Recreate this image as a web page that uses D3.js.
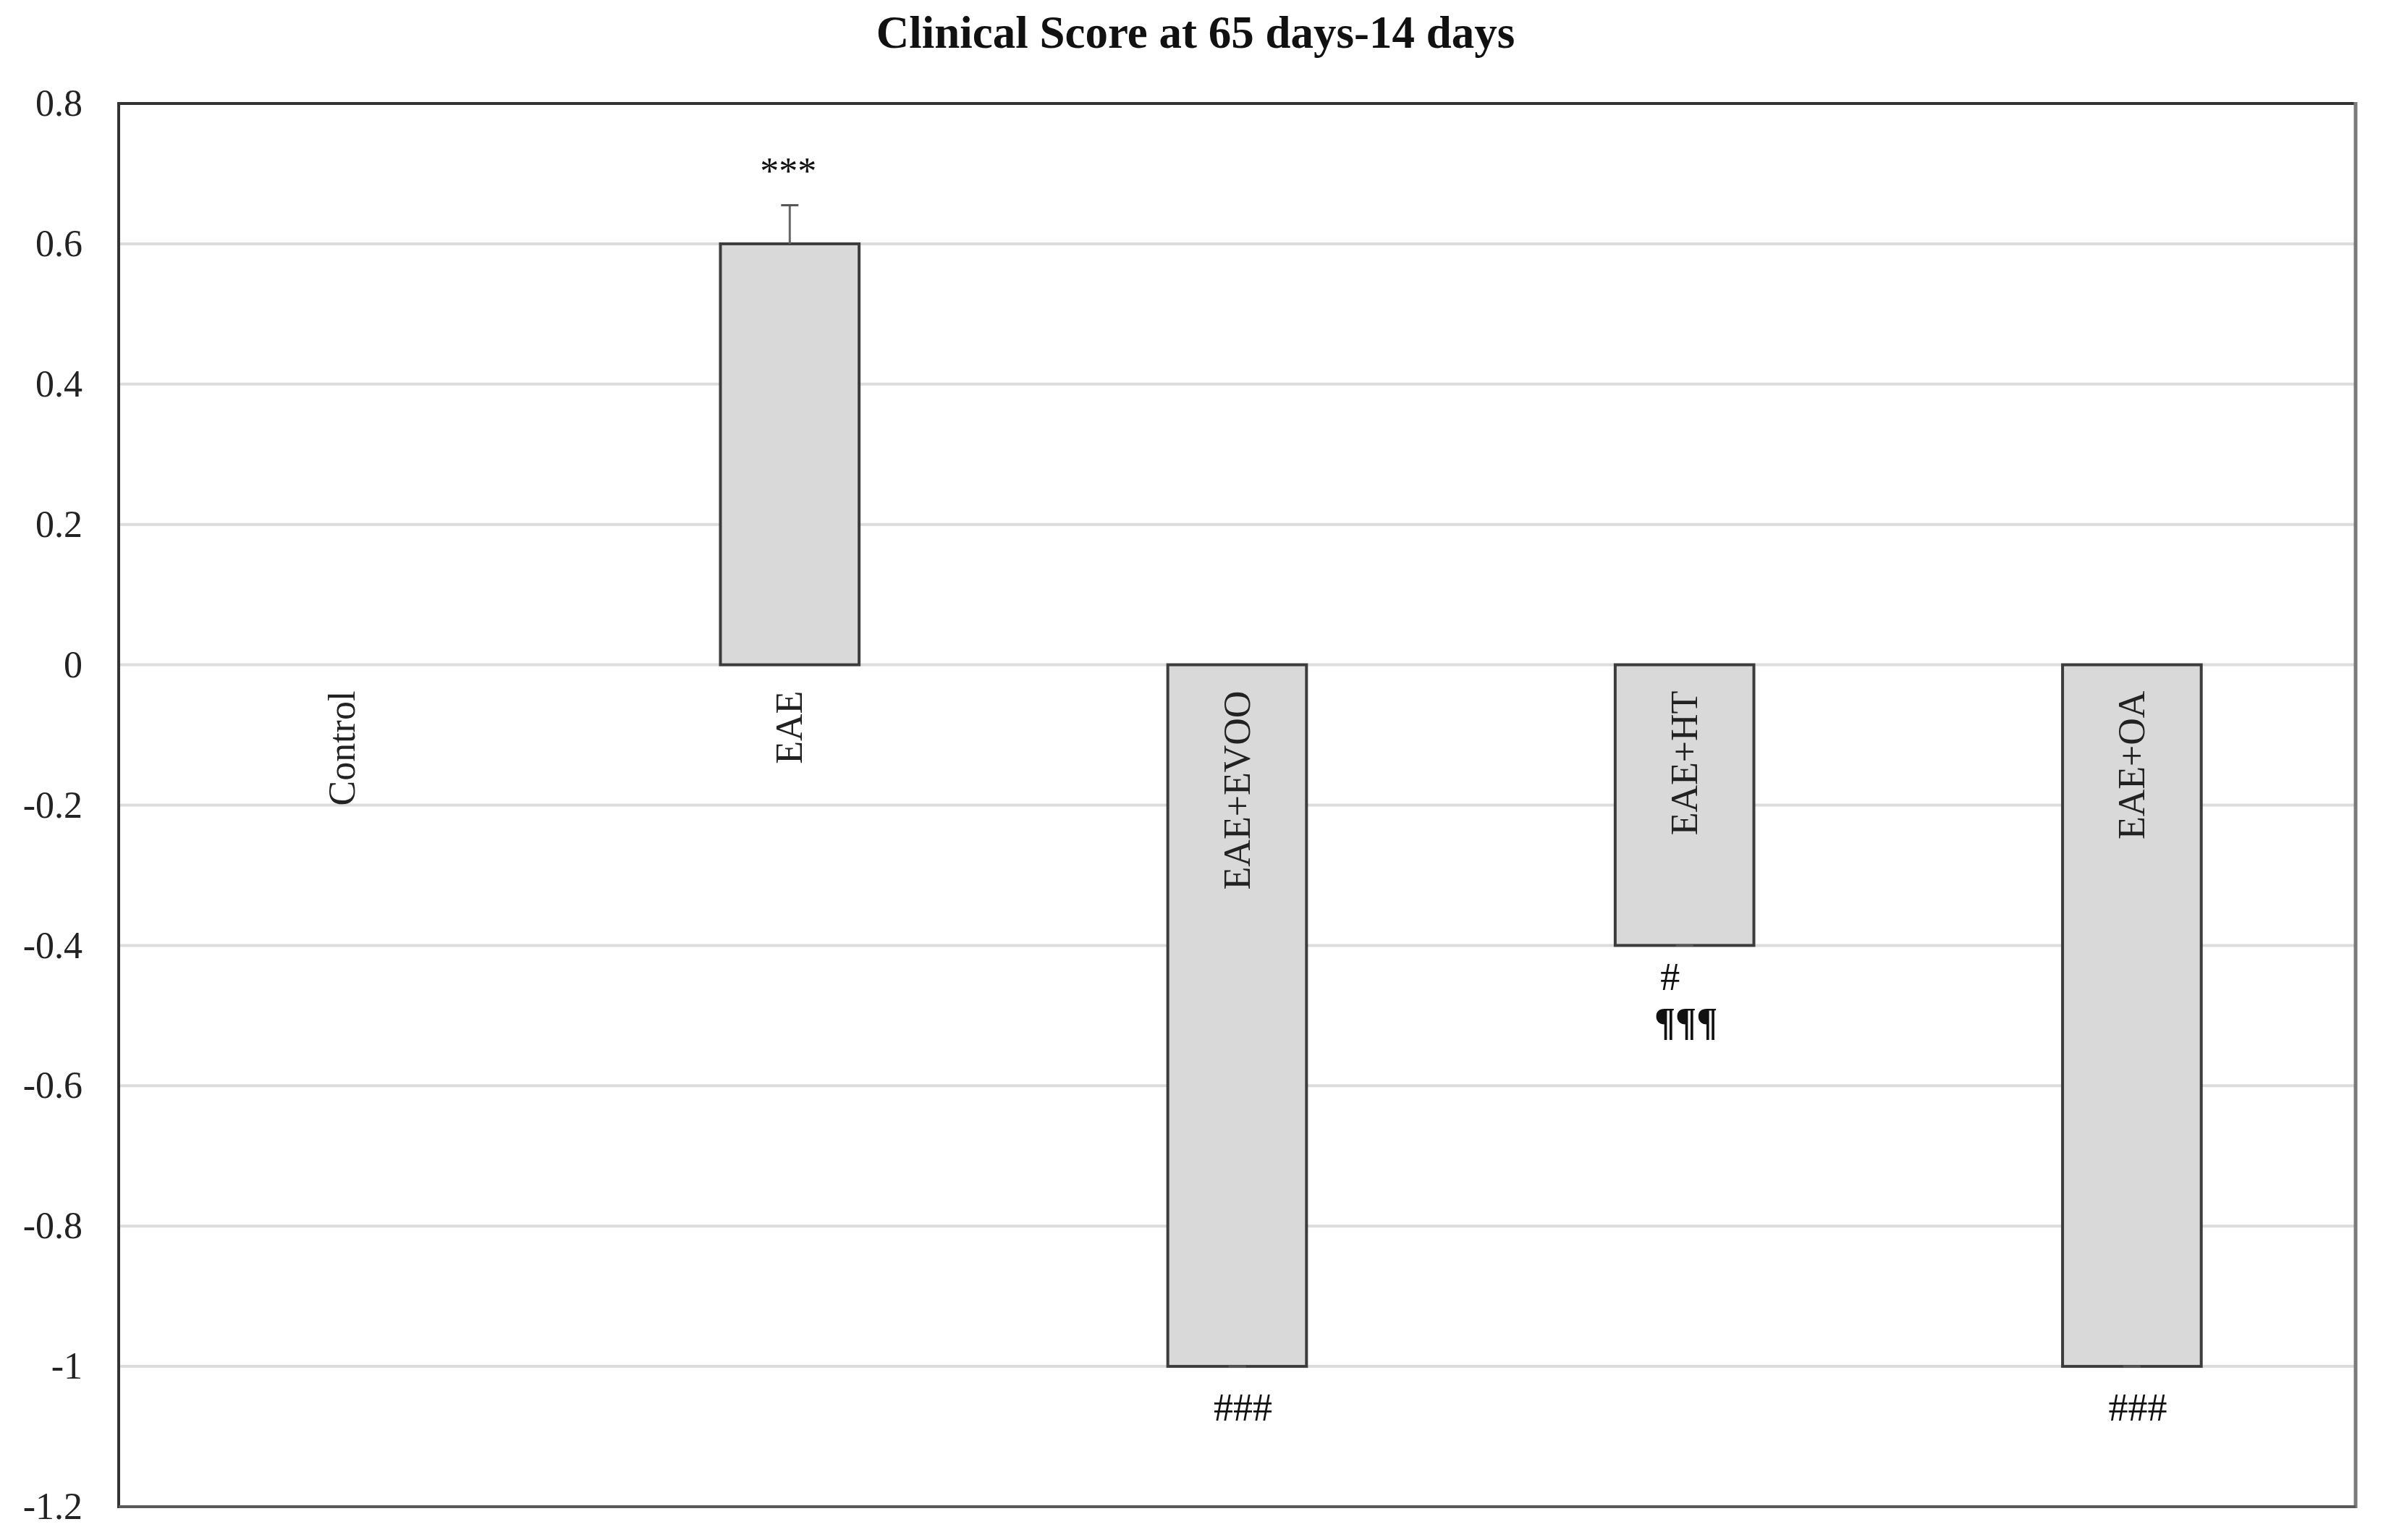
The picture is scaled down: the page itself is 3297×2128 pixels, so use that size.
<!DOCTYPE html>
<html>
<head>
<meta charset="utf-8">
<script src="https://cdn.jsdelivr.net/npm/d3@7"></script>
<style>
  html, body { margin: 0; padding: 0; background: #ffffff; }
  svg { display: block; }
</style>
</head>
<body>
<script>
// ---------------- data ----------------
const title = "Clinical Score at 65 days-14 days";
const categories = ["Control", "EAE", "EAE+EVOO", "EAE+HT", "EAE+OA"];
const values = [0, 0.6, -1, -0.4, -1];
const errors = [0, 0.055, 0, 0, 0];
const yTicks = [0.8, 0.6, 0.4, 0.2, 0, -0.2, -0.4, -0.6, -0.8, -1, -1.2];
const sigAbove = ["", "***", "", "", ""];
const sigBelow1 = ["", "", "###", "#", "###"];
const sigBelow2 = ["", "", "", "\u00B6\u00B6\u00B6", ""];

// ---------------- layout ----------------
const W = 3297, H = 2128;
const M = { left: 164, right: 3255, top: 143, bottom: 2082 };
const FONT = "'Liberation Serif', 'Times New Roman', serif";

const svg = d3.select("body").append("svg")
  .attr("width", W).attr("height", H)
  .attr("viewBox", `0 0 ${W} ${H}`);

const x = d3.scaleBand().domain(categories).range([M.left, M.right]).padding(0);
const y = d3.scaleLinear().domain([-1.2, 0.8]).range([M.bottom, M.top]);
const barW = x.bandwidth() * 0.31;
const cx = c => x(c) + x.bandwidth() / 2;

// title
svg.append("text")
  .attr("x", 1652).attr("y", 66)
  .attr("text-anchor", "middle")
  .style("font-family", FONT).style("font-weight", "bold").style("font-size", "63px")
  .attr("fill", "#111")
  .text(title);

// gridlines
svg.append("g").selectAll("line")
  .data(yTicks.filter(t => t < 0.8 && t > -1.2))
  .join("line")
  .attr("x1", M.left).attr("x2", M.right)
  .attr("y1", d => y(d)).attr("y2", d => y(d))
  .attr("stroke", "#dcdcdc").attr("stroke-width", 4);

// y axis labels
const yAxis = d3.axisLeft(y)
  .tickValues(yTicks)
  .tickSize(0)
  .tickPadding(50)
  .tickFormat(d => String(d));
const gy = svg.append("g").attr("transform", `translate(${M.left},0)`).call(yAxis);
gy.select(".domain").remove();
gy.selectAll("text")
  .style("font-family", FONT).style("font-size", "52px").attr("fill", "#222");

// bars
const data = categories.map((c, i) => ({ c, v: values[i], e: errors[i], i }));
svg.append("g").selectAll("rect")
  .data(data.filter(d => d.v !== 0))
  .join("rect")
  .attr("x", d => cx(d.c) - barW / 2)
  .attr("width", barW)
  .attr("y", d => y(Math.max(0, d.v)))
  .attr("height", d => Math.abs(y(d.v) - y(0)))
  .attr("fill", "#d9d9d9")
  .attr("stroke", "#3c3c3c").attr("stroke-width", 4);

// error bars (plus direction, away from zero)
const eg = svg.append("g");
data.filter(d => d.v !== 0).forEach(d => {
  const dir = d.v >= 0 ? 1 : -1;
  const y0 = y(d.v), y1 = y(d.v + dir * d.e);
  eg.append("line").attr("x1", cx(d.c)).attr("x2", cx(d.c))
    .attr("y1", y0).attr("y2", y1)
    .attr("stroke", "#666").attr("stroke-width", 3);
  eg.append("line").attr("x1", cx(d.c) - 12).attr("x2", cx(d.c) + 12)
    .attr("y1", y1).attr("y2", y1)
    .attr("stroke", "#555").attr("stroke-width", 3);
});

// category labels (rotated, just below zero line)
svg.append("g").selectAll("text")
  .data(categories)
  .join("text")
  .attr("transform", c => `translate(${cx(c)},${y(0) + 36}) rotate(-90)`)
  .attr("text-anchor", "end")
  .attr("dy", "0.33em")
  .style("font-family", FONT).style("font-size", "52px")
  .attr("fill", "#222")
  .text(c => c);

// significance marks
const sg = svg.append("g").style("font-family", FONT).attr("fill", "#111");
data.forEach(d => {
  if (sigAbove[d.i]) {
    sg.append("text")
      .attr("x", cx(d.c) - 2).attr("y", y(d.v + d.e) - 30)
      .attr("text-anchor", "middle").style("font-size", "52px")
      .text(sigAbove[d.i]);
  }
  if (sigBelow1[d.i]) {
    const single = sigBelow1[d.i].length === 1;
    sg.append("text")
      .attr("x", cx(d.c) + (single ? -20 : 8))
      .attr("y", y(d.v) + (single ? 62 : 75))
      .attr("text-anchor", "middle").style("font-size", "54px")
      .text(sigBelow1[d.i]);
  }
  if (sigBelow2[d.i]) {
    sg.append("text")
      .attr("x", cx(d.c) + 2).attr("y", y(d.v) + 124)
      .attr("text-anchor", "middle").style("font-size", "54px")
      .style("font-weight", "bold")
      .text(sigBelow2[d.i]);
  }
});

// frame
const fr = svg.append("g");
fr.append("line").attr("x1", M.left).attr("x2", M.right).attr("y1", M.top).attr("y2", M.top)
  .attr("stroke", "#333").attr("stroke-width", 4);
fr.append("line").attr("x1", M.left).attr("x2", M.left).attr("y1", M.top - 2).attr("y2", M.bottom + 2)
  .attr("stroke", "#333").attr("stroke-width", 4);
fr.append("line").attr("x1", M.right).attr("x2", M.right).attr("y1", M.top - 2).attr("y2", M.bottom + 2)
  .attr("stroke", "#7a7a7a").attr("stroke-width", 5);
fr.append("line").attr("x1", M.left).attr("x2", M.right).attr("y1", M.bottom).attr("y2", M.bottom)
  .attr("stroke", "#5a5a5a").attr("stroke-width", 4);
</script>
</body>
</html>
